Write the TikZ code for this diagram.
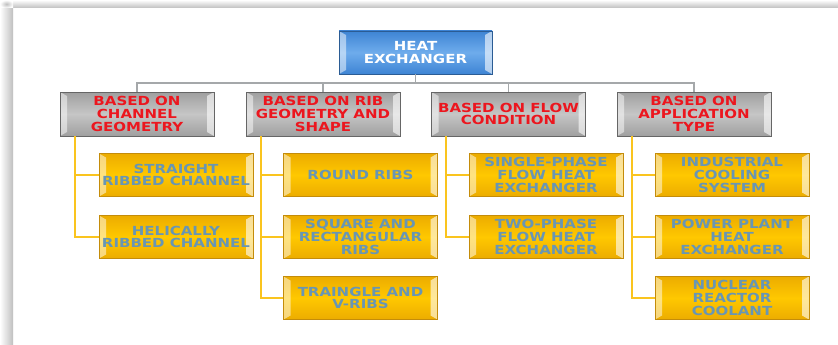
\documentclass[tikz,border=0pt]{standalone}
\usepackage{fontspec}
\newfontfamily\boxfont{DejaVu Sans Bold}[FakeStretch=1.2]
\usepackage{tikz}

\definecolor{heatblue}{RGB}{62,132,212}
\definecolor{heatbluelt}{RGB}{110,172,236}
\definecolor{heatred}{RGB}{236,22,30}
\definecolor{gold}{RGB}{255,200,0}
\definecolor{golddk}{RGB}{236,172,0}
\definecolor{goldedge}{RGB}{196,140,10}
\definecolor{steeltext}{RGB}{104,150,180}
\definecolor{busgrey}{RGB}{165,168,170}
\definecolor{busgold}{RGB}{250,196,30}

\tikzset{
  bevel/.style={path picture={
    \fill[white,opacity=.5] (path picture bounding box.north west) -- ([xshift=7pt,yshift=-4pt]path picture bounding box.north west) -- ([xshift=7pt,yshift=4pt]path picture bounding box.south west) -- (path picture bounding box.south west) -- cycle;
    \fill[white,opacity=.6] (path picture bounding box.north east) -- ([xshift=-7pt,yshift=-4pt]path picture bounding box.north east) -- ([xshift=-7pt,yshift=4pt]path picture bounding box.south east) -- (path picture bounding box.south east) -- cycle;
  }},
  heatbox/.style={bevel, top color=heatblue, bottom color=heatblue, middle color=heatbluelt, draw=heatblue!70!black, text=white, align=center, inner sep=0pt, minimum width=153, minimum height=43, font=\boxfont\fontsize{12.5}{12.8}\selectfont},
  catbox/.style={bevel, top color=gray!75, bottom color=gray!75, middle color=gray!45, draw=gray!80!black, text=heatred, align=center, inner sep=0pt, minimum width=154, minimum height=44, font=\boxfont\fontsize{12.5}{12.8}\selectfont},
  itembox/.style={bevel, top color=golddk, bottom color=golddk, middle color=gold, draw=goldedge, text=steeltext, align=center, inner sep=0pt, minimum width=154, minimum height=43, font=\boxfont\fontsize{12.5}{12.8}\selectfont},
  greyline/.style={draw=busgrey, line width=1.6pt},
  goldline/.style={draw=busgold, line width=2pt}
}

\begin{document}
\begin{tikzpicture}[x=1pt,y=-1pt]

  % page and its shadow
  \useasboundingbox (0,0) rectangle (838,345);
  \fill[white] (0,0) rectangle (838,345);
  \shade[left color=white, right color=gray!50] (0,8) rectangle (13,345);
  \shade[top color=white, bottom color=gray!50] (13,0) rectangle (838,8);
  \shade[inner color=gray!50, outer color=white] (0,0) rectangle (13,8);

  \node[heatbox] (heat) at (415.5,52.5) {HEAT\\EXCHANGER};

  \node[catbox] (chan) at (137,114) {BASED ON\\CHANNEL\\GEOMETRY};
  \node[catbox] (rib) at (323,114) {BASED ON RIB\\GEOMETRY AND\\SHAPE};
  \node[catbox] (flow) at (508.5,114) {BASED ON FLOW\\CONDITION};
  \node[catbox] (appl) at (694,114) {BASED ON\\APPLICATION\\TYPE};

  \node[itembox] (chan1) at (176,175) {STRAIGHT\\RIBBED CHANNEL};
  \node[itembox] (chan2) at (176,237) {HELICALLY\\RIBBED CHANNEL};

  \node[itembox] (rib1) at (360.5,175) {ROUND RIBS};
  \node[itembox] (rib2) at (360.5,237) {SQUARE AND\\RECTANGULAR\\RIBS};
  \node[itembox] (rib3) at (360.5,298) {TRAINGLE AND\\V-RIBS};

  \node[itembox] (flow1) at (546,175) {SINGLE-PHASE\\FLOW HEAT\\EXCHANGER};
  \node[itembox] (flow2) at (546,237) {TWO-PHASE\\FLOW HEAT\\EXCHANGER};

  \node[itembox] (appl1) at (732,175) {INDUSTRIAL\\COOLING\\SYSTEM};
  \node[itembox] (appl2) at (732,237) {POWER PLANT\\HEAT\\EXCHANGER};
  \node[itembox] (appl3) at (732,298) {NUCLEAR\\REACTOR\\COOLANT};

  % top level bus
  \draw[greyline] (heat.south) -- ++(0,9) -| (chan.north);
  \draw[greyline] (heat.south) -- ++(0,9) -| (rib.north);
  \draw[greyline] (heat.south) -- ++(0,9) -| (flow.north);
  \draw[greyline] (heat.south) -- ++(0,9) -| (appl.north);

  % branches
  \draw[goldline] ([xshift=15pt]chan.south west) |- (chan1.west);
  \draw[goldline] ([xshift=15pt]chan.south west) |- (chan2.west);
  \draw[goldline] ([xshift=15pt]rib.south west) |- (rib1.west);
  \draw[goldline] ([xshift=15pt]rib.south west) |- (rib2.west);
  \draw[goldline] ([xshift=15pt]rib.south west) |- (rib3.west);
  \draw[goldline] ([xshift=15pt]flow.south west) |- (flow1.west);
  \draw[goldline] ([xshift=15pt]flow.south west) |- (flow2.west);
  \draw[goldline] ([xshift=15pt]appl.south west) |- (appl1.west);
  \draw[goldline] ([xshift=15pt]appl.south west) |- (appl2.west);
  \draw[goldline] ([xshift=15pt]appl.south west) |- (appl3.west);

\end{tikzpicture}
\end{document}
